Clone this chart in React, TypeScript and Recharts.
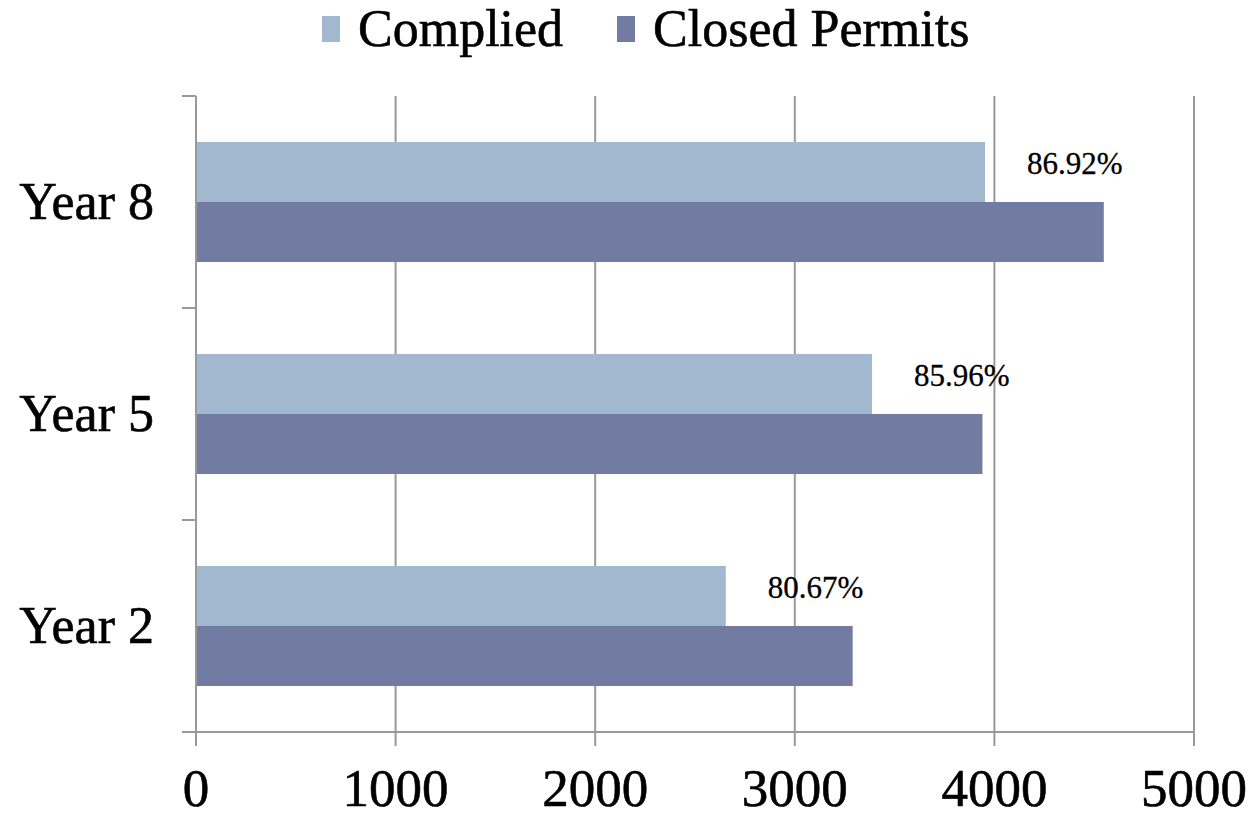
import React from 'react'
import { BarChart, Bar, XAxis, YAxis, CartesianGrid, LabelList } from 'recharts'

const years = ['Year 8', 'Year 5', 'Year 2']
const complied = [3953, 3387, 2654]
const closedPermits = [4548, 3940, 3290]
const rates = ['86.92%', '85.96%', '80.67%']
const xTicks = [0, 1000, 2000, 3000, 4000, 5000]

const LIGHT = '#A2B8CE'
const DARK = '#727BA2'
const GRID = '#999999'
const FONT = '"Liberation Serif", "Times New Roman", serif'

const data = years.map((year, i) => ({
  year,
  complied: complied[i],
  closed: closedPermits[i],
  rate: rates[i],
}))

// plot area is 636px tall with 3 bands
const HALF_BAND = 636 / years.length / 2

function YearTick(props: any) {
  const { x, y, payload, index } = props
  return (
    <g>
      <line x1={196 - 14} x2={196} y1={y - HALF_BAND} y2={y - HALF_BAND} stroke={GRID} strokeWidth={2} />
      {index === years.length - 1 && (
        <line x1={196 - 14} x2={196} y1={y + HALF_BAND} y2={y + HALF_BAND} stroke={GRID} strokeWidth={2} />
      )}
      <text
        x={x}
        y={y}
        dy="0.32em"
        textAnchor="end"
        fill="#000"
        stroke="#000"
        strokeWidth={0.6}
        fontSize={52}
        fontFamily={FONT}
      >
        {payload.value}
      </text>
    </g>
  )
}

function NumTick(props: any) {
  const { x, y, payload } = props
  return (
    <text
      x={x}
      y={y}
      dy="0.71em"
      textAnchor="middle"
      fill="#000"
      stroke="#000"
      strokeWidth={0.6}
      fontSize={53}
      fontFamily={FONT}
    >
      {payload.value}
    </text>
  )
}

function RateLabel(props: any) {
  const { x, y, width, height, value } = props
  return (
    <text
      x={x + width + 42}
      y={y + height / 2 - 9}
      dy="0.35em"
      fill="#000"
      stroke="#000"
      strokeWidth={0.3}
      fontSize={31}
      fontFamily={FONT}
    >
      {value}
    </text>
  )
}

function LegendItem({ color, label }: { color: string; label: string }) {
  return (
    <span style={{ display: 'inline-flex', alignItems: 'center', marginRight: 54 }}>
      <span style={{ width: 18, height: 26, background: color, display: 'inline-block', marginRight: 18 }} />
      <span style={{ fontSize: 52, lineHeight: '58px', WebkitTextStroke: '0.6px #000' }}>{label}</span>
    </span>
  )
}

export default function App() {
  return (
    <div style={{ position: 'relative', width: 1257, height: 813, background: '#fff', fontFamily: FONT }}>
      <style>{'body{margin:0}'}</style>
      <div style={{ position: 'absolute', top: 0, left: 322, display: 'flex', color: '#000' }}>
        <LegendItem color={LIGHT} label="Complied" />
        <LegendItem color={DARK} label="Closed Permits" />
      </div>
      <BarChart
        width={1257}
        height={813}
        data={data}
        layout="vertical"
        margin={{ top: 96, right: 63, bottom: 0, left: 0 }}
        barSize={60}
        barGap={0}
      >
        <CartesianGrid horizontal={false} stroke={GRID} strokeWidth={2} />
        <XAxis
          type="number"
          domain={[0, 5000]}
          ticks={xTicks}
          height={81}
          tickSize={14}
          tickMargin={22}
          axisLine={{ stroke: GRID, strokeWidth: 2 }}
          tickLine={{ stroke: GRID, strokeWidth: 2 }}
          tick={<NumTick />}
        />
        <YAxis
          type="category"
          dataKey="year"
          width={196}
          tickLine={false}
          tickMargin={36}
          axisLine={{ stroke: GRID, strokeWidth: 2 }}
          tick={<YearTick />}
        />
        <Bar dataKey="complied" fill={LIGHT} isAnimationActive={false}>
          <LabelList dataKey="rate" content={<RateLabel />} />
        </Bar>
        <Bar dataKey="closed" fill={DARK} isAnimationActive={false} />
      </BarChart>
    </div>
  )
}
